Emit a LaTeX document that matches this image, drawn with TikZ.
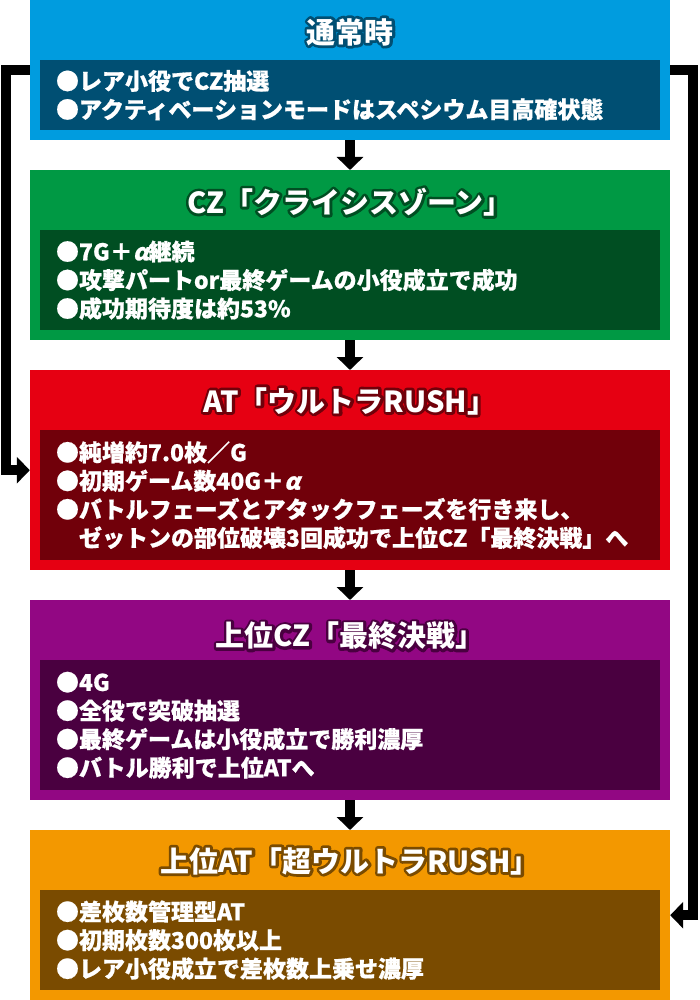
\documentclass[tikz,border=0pt]{standalone}
\usepackage{fontspec}
\usetikzlibrary{positioning,arrows.meta}
\newfontfamily\jpfont{Noto Sans CJK JP}
\newfontfamily\jpheavy{Noto Sans CJK JP}[FakeBold=0.7]
\newfontfamily\jpslant{Noto Sans CJK JP}[FakeSlant=0.25,FakeBold=0.7]
\definecolor{blueA}{HTML}{009CDF}
\definecolor{blueB}{HTML}{004F73}
\definecolor{greenA}{HTML}{009944}
\definecolor{greenB}{HTML}{004E22}
\definecolor{redA}{HTML}{E60012}
\definecolor{redB}{HTML}{71000A}
\definecolor{purpleA}{HTML}{920783}
\definecolor{purpleB}{HTML}{4A0040}
\definecolor{orangeA}{HTML}{F39800}
\definecolor{orangeB}{HTML}{7A4B00}
% outlined title text: stroked copy behind, white copy on top
\newcommand\outlined[2]{\leavevmode\rlap{\color{#1}\special{pdf:literal direct 2 Tr 5.5 w 1 j}#2\special{pdf:literal direct 0 Tr}}#2}
\newcommand\alp{{\jpslant\bfseries α}}

\begin{document}
\begin{tikzpicture}[x=1pt,y=-1pt,
    stage/.style={minimum width=640pt,inner sep=0pt,anchor=north},
    panel/.style={minimum width=620pt,inner sep=0pt},
    title/.style={font=\jpfont\bfseries\fontsize{29}{29}\selectfont,text=white,inner sep=0pt},
    body/.style={font=\jpheavy\bfseries\fontsize{23}{28.5}\selectfont,text=white,align=left,anchor=west,inner sep=0pt},
    flow/.style={line width=10pt,-{Triangle[width=26pt,length=13pt]}}]
   \fill[white] (0,0) rectangle (700,1000);
   \useasboundingbox (0,0) rectangle (700,1000);
   % stages
   \node[stage,fill=blueA,minimum height=140pt] (normal) at (350,0) {};
   \node[stage,fill=greenA,minimum height=170pt] (cz) at (350,170) {};
   \node[stage,fill=redA,minimum height=200pt] (rush) at (350,370) {};
   \node[stage,fill=purpleA,minimum height=200pt] (final) at (350,600) {};
   \node[stage,fill=orangeA,minimum height=170pt] (ultra) at (350,830) {};
   % inner panels
   \node[panel,fill=blueB,minimum height=70pt,above=10pt of normal.south] (normalbox) {};
   \node[panel,fill=greenB,minimum height=100pt,above=10pt of cz.south] (czbox) {};
   \node[panel,fill=redB,minimum height=130pt,above=10pt of rush.south] (rushbox) {};
   \node[panel,fill=purpleB,minimum height=130pt,above=10pt of final.south] (finalbox) {};
   \node[panel,fill=orangeB,minimum height=100pt,above=10pt of ultra.south] (ultrabox) {};
   % titles
   \node[title] (normaltitle) at ([yshift=-32pt]normal.north) {\outlined{blueB}{通常時}};
   \node[title] (cztitle) at ([yshift=-32pt]cz.north) {\outlined{greenB}{CZ「クライシスゾーン」}};
   \node[title] (rushtitle) at ([yshift=-31pt]rush.north) {\outlined{redB}{AT「ウルトラRUSH」}};
   \node[title] (finaltitle) at ([yshift=-36pt]final.north) {\outlined{purpleB}{上位CZ「最終決戦」}};
   \node[title] (ultratitle) at ([yshift=-31pt]ultra.north) {\outlined{orangeB}{上位AT「超ウルトラRUSH」}};
   % texts
   \node[body] (normaltext) at ([xshift=16pt]normalbox.west) {●レア小役でCZ抽選\\●アクティベーションモードはスペシウム目高確状態};
   \node[body] (cztext) at ([xshift=16pt]czbox.west) {●7G＋\alp 継続\\●攻撃パートor最終ゲームの小役成立で成功\\●成功期待度は約53\%};
   \node[body] (rushtext) at ([xshift=16pt]rushbox.west) {●純増約7.0枚／G\\●初期ゲーム数40G＋\alp\\●バトルフェーズとアタックフェーズを行き来し、\\\hspace*{1em}ゼットンの部位破壊3回成功で上位CZ「最終決戦」へ};
   \node[body] (finaltext) at ([xshift=16pt]finalbox.west) {●4G\\●全役で突破抽選\\●最終ゲームは小役成立で勝利濃厚\\●バトル勝利で上位ATへ};
   \node[body] (ultratext) at ([xshift=16pt]ultrabox.west) {●差枚数管理型AT\\●初期枚数300枚以上\\●レア小役成立で差枚数上乗せ濃厚};
   % connectors
   \draw[flow] (normal) -- (cz);
   \draw[flow] (cz) -- (rush);
   \draw[flow] (rush) -- (final);
   \draw[flow] (final) -- (ultra);
   \draw[flow] (normal.west) -- ++(-24,0) |- (rush.west);
   \draw[flow] (normal.east) -- ++(23,0) |- (ultra.east);
\end{tikzpicture}
\end{document}
